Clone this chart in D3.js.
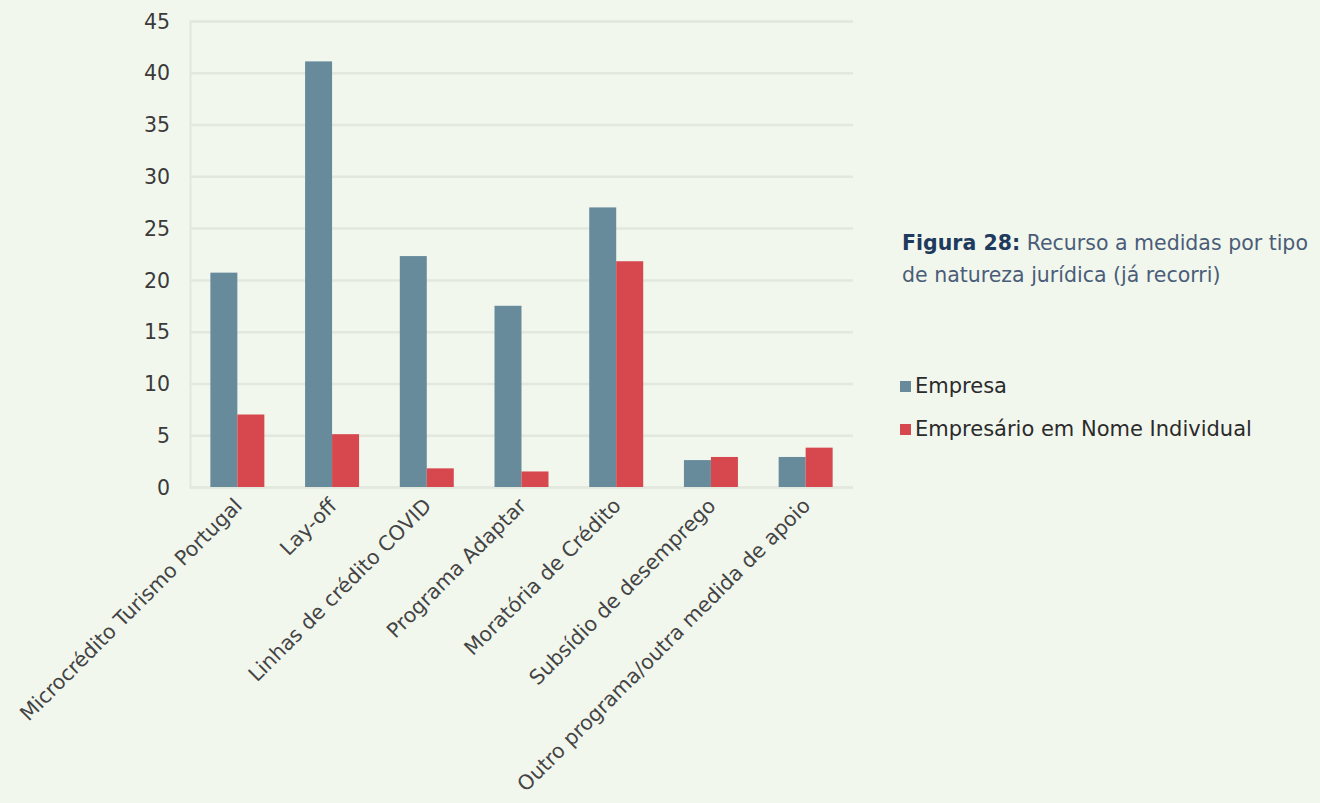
<!DOCTYPE html>
<html>
<head>
<meta charset="utf-8">
<script src="https://cdn.jsdelivr.net/npm/d3@7"></script>
<style>
  html, body { margin: 0; padding: 0; background: #f2f7ee; }
  svg { display: block; }
  text { font-family: "DejaVu Sans", sans-serif; }
</style>
</head>
<body>
<svg id="chart" width="1320" height="803"></svg>
<script>
// Categories (support measures) and the two legal-form series
const categories = [
  "Microcrédito Turismo Portugal",
  "Lay-off",
  "Linhas de crédito COVID",
  "Programa Adaptar",
  "Moratória de Crédito",
  "Subsídio de desemprego",
  "Outro programa/outra medida de apoio"
];
const seriesNames = ["Empresa", "Empresário em Nome Individual"];
const empresa = [20.7, 41.1, 22.3, 17.5, 27.0, 2.6, 2.9];
const eni = [7.0, 5.1, 1.8, 1.5, 21.8, 2.9, 3.8];
const yTicks = [0, 5, 10, 15, 20, 25, 30, 35, 40, 45];
const colors = ["#688b9c", "#d6474e"];

const svg = d3.select("#chart");
const W = 1320, H = 803;
svg.append("rect").attr("width", W).attr("height", H).attr("fill", "#f2f7ee");

const plot = { left: 190, right: 853, top: 21, bottom: 487 };

const x0 = d3.scaleBand()
  .domain(categories)
  .range([plot.left, plot.right])
  .paddingInner(0.43)
  .paddingOuter(0.215);
const x1 = d3.scaleBand()
  .domain(seriesNames)
  .range([0, x0.bandwidth()]);
const y = d3.scaleLinear().domain([0, 45]).range([plot.bottom, plot.top]);

// Horizontal gridlines and tick labels
const yAxis = d3.axisLeft(y).tickValues(yTicks).tickSize(-(plot.right - plot.left)).tickPadding(20);
const gy = svg.append("g").attr("transform", `translate(${plot.left},0)`).call(yAxis);
gy.select(".domain").attr("stroke", "#e2e8dd").attr("stroke-width", 2);
gy.selectAll(".tick line").attr("stroke", "#e2e8dd").attr("stroke-width", 2.5);
gy.selectAll(".tick text")
  .attr("fill", "#3a3a3a")
  .style("font-size", "20.5px")
  .attr("dy", "0.35em");

// Bars
const data = categories.map((c, i) => ({ cat: c, vals: [empresa[i], eni[i]] }));
const groups = svg.append("g").selectAll("g")
  .data(data).join("g")
  .attr("transform", d => `translate(${x0(d.cat)},0)`);
groups.selectAll("rect")
  .data(d => d.vals.map((v, j) => ({ key: seriesNames[j], v, j })))
  .join("rect")
  .attr("x", d => x1(d.key))
  .attr("y", d => y(d.v))
  .attr("width", x1.bandwidth())
  .attr("height", d => y(0) - y(d.v))
  .attr("fill", d => colors[d.j]);

// Rotated category labels
svg.append("g").selectAll("text")
  .data(categories).join("text")
  .attr("transform", d => `translate(${x0(d) + x0.bandwidth() / 2 + 6},${plot.bottom + 20}) rotate(-45)`)
  .attr("text-anchor", "end")
  .attr("fill", "#444")
  .style("font-size", "20.5px")
  .text(d => d);

// Caption
const cap = svg.append("text").attr("x", 902).attr("y", 250).style("font-size", "20.5px");
cap.append("tspan").attr("fill", "#1e3a5c").style("font-weight", "bold").text("Figura 28:");
cap.append("tspan").attr("fill", "#4a5d78").text(" Recurso a medidas por tipo");
svg.append("text").attr("x", 902).attr("y", 282).style("font-size", "20.5px")
  .attr("fill", "#4a5d78").text("de natureza jurídica (já recorri)");

// Legend
const legend = svg.append("g").selectAll("g")
  .data(seriesNames).join("g")
  .attr("transform", (d, i) => `translate(900,${386 + i * 43})`);
legend.append("rect").attr("x", 0).attr("y", -5).attr("width", 11).attr("height", 11)
  .attr("fill", (d, i) => colors[i]);
legend.append("text").attr("x", 15).attr("y", 0).attr("dy", "0.35em")
  .attr("fill", "#2b2b2b").style("font-size", "21px").text(d => d);
</script>
</body>
</html>
